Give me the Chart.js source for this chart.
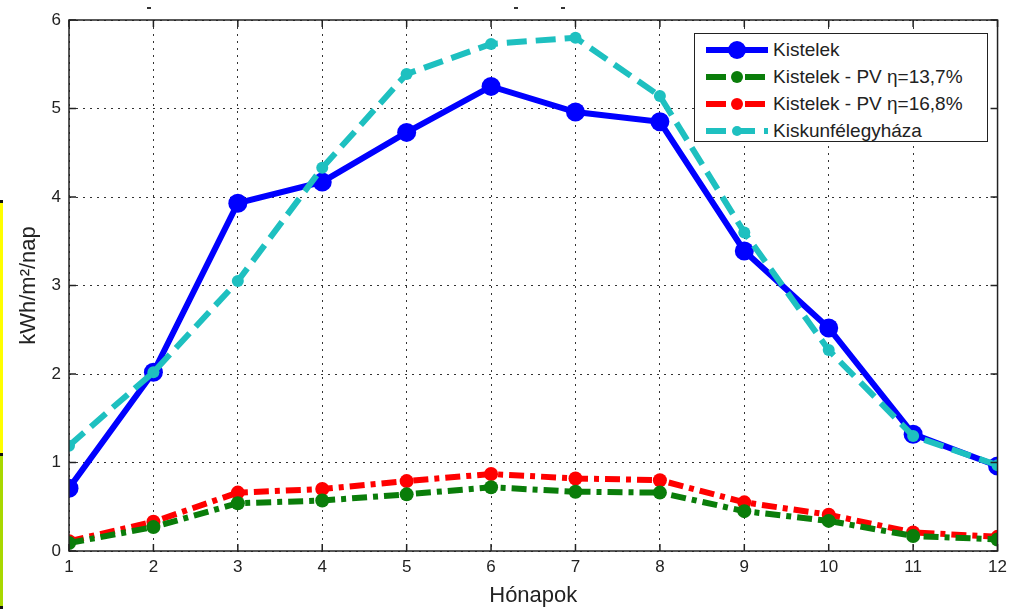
<!DOCTYPE html>
<html>
<head>
<meta charset="utf-8">
<script src="https://cdn.jsdelivr.net/npm/chart.js@4.4.1/dist/chart.umd.min.js"></script>
<style>
  html, body { margin: 0; padding: 0; background: #fff; }
  #wrap { position: relative; width: 1013px; height: 609px; overflow: hidden; }
  canvas { position: absolute; left: 0; top: 0; }
  .strip { position: absolute; left: 0; width: 3px; }
  .art { position: absolute; height: 2px; width: 4px; background: #333; top: 7px; }
  #legend { position: absolute; left: 694px; top: 33px; width: 294px; height: 109px; border: 1px solid #222; background: #fff;
            font-family: "Liberation Sans", Arial, sans-serif; font-size: 19px; color: #222; box-sizing: border-box; padding-top: 2px; }
  #legend .row { display: flex; align-items: center; height: 27px; }
  #legend svg { margin-left: 11px; margin-right: 5px; }
</style>
</head>
<body>
<div id="wrap">
  <canvas id="c" width="1013" height="609"></canvas>
  <div class="strip" style="top:200px;height:3px;background:#111;"></div>
  <div class="strip" style="top:203px;height:250px;background:#ffff00;"></div>
  <div class="strip" style="top:453px;height:3px;background:#111;"></div>
  <div class="strip" style="top:456px;height:150px;background:#a8d800;"></div>
  <div class="strip" style="top:606px;height:3px;background:#111;"></div>
  <div class="art" style="left:147px;"></div>
  <div class="art" style="left:514px;"></div>
  <div class="art" style="left:561px;"></div>
  <div id="legend"></div>
</div>
<script>
const months = [1, 2, 3, 4, 5, 6, 7, 8, 9, 10, 11, 12];
const kistelek = [0.71, 2.02, 3.93, 4.17, 4.73, 5.25, 4.96, 4.85, 3.39, 2.52, 1.32, 0.96];
const pv137 = [0.09, 0.27, 0.54, 0.57, 0.64, 0.72, 0.67, 0.66, 0.45, 0.34, 0.17, 0.13];
const pv168 = [0.11, 0.33, 0.66, 0.70, 0.79, 0.87, 0.82, 0.80, 0.55, 0.41, 0.21, 0.16];
const kiskun = [1.19, 2.02, 3.05, 4.33, 5.39, 5.73, 5.80, 5.14, 3.60, 2.27, 1.30, 0.97];
const seriesNames = ["Kistelek", "Kistelek - PV \u03b7=13,7%", "Kistelek - PV \u03b7=16,8%", "Kiskunfélegyháza"];
const yTicks = [0, 1, 2, 3, 4, 5, 6];
const xTitle = "Hónapok";
const yTitle = "kWh/m\u00b2/nap";

const toXY = arr => arr.map((v, i) => ({ x: months[i], y: v }));
const FONT = "'Liberation Sans', Arial, sans-serif";

const datasets = [
  { label: seriesNames[3], data: toXY(kiskun), borderColor: '#1ec0c0', backgroundColor: '#1ec0c0', borderWidth: 6,
    borderDash: [20, 9], pointRadius: 6, pointBorderWidth: 0, pointStyle: 'circle', tension: 0 },
  { label: seriesNames[1], data: toXY(pv137), borderColor: '#0a7d0a', backgroundColor: '#0a7d0a', borderWidth: 6,
    borderDash: [15, 6, 5, 6], pointRadius: 7, pointBorderWidth: 0, tension: 0 },
  { label: seriesNames[2], data: toXY(pv168), borderColor: '#ff0000', backgroundColor: '#ff0000', borderWidth: 6,
    borderDash: [15, 6, 5, 6], pointRadius: 7, pointBorderWidth: 0, tension: 0 },
  { label: seriesNames[0], data: toXY(kistelek), borderColor: '#0000ff', backgroundColor: '#0000ff', borderWidth: 6,
    pointRadius: 9.5, pointBorderWidth: 0, tension: 0 }
];

const frame = {
  id: 'frame',
  afterDatasetsDraw(chart) {
    const { ctx, chartArea: a, scales: { x, y } } = chart;
    ctx.save();
    ctx.strokeStyle = '#222';
    ctx.lineWidth = 1.5;
    ctx.setLineDash([]);
    ctx.beginPath();
    const L = 7;
    months.forEach(m => {
      const px = x.getPixelForValue(m);
      ctx.moveTo(px, a.bottom); ctx.lineTo(px, a.bottom - L);
      ctx.moveTo(px, a.top); ctx.lineTo(px, a.top + L);
    });
    yTicks.forEach(t => {
      const py = y.getPixelForValue(t);
      ctx.moveTo(a.left, py); ctx.lineTo(a.left + L, py);
      ctx.moveTo(a.right, py); ctx.lineTo(a.right - L, py);
    });
    ctx.stroke();
    ctx.strokeRect(a.left, a.top, a.right - a.left, a.bottom - a.top);
    ctx.restore();
  }
};

new Chart(document.getElementById('c'), {
  type: 'line',
  data: { datasets },
  options: {
    responsive: false,
    animation: false,
    layout: { padding: { left: 0, right: 13, top: 20, bottom: 0 } },
    plugins: { legend: { display: false }, tooltip: { enabled: false } },
    scales: {
      x: {
        type: 'linear', min: 1, max: 12,
        afterFit: s => { s.height = 58; },
        ticks: { stepSize: 1, color: '#222', font: { family: FONT, size: 17 }, padding: 6, maxRotation: 0 },
        grid: { color: '#333', lineWidth: 1, drawTicks: false },
        border: { display: false, dash: [2, 5] },
        title: { display: true, text: xTitle, color: '#222', font: { family: FONT, size: 22 }, padding: { top: 0, bottom: 0 } }
      },
      y: {
        min: 0, max: 6,
        afterFit: s => { s.width = 69; },
        ticks: { stepSize: 1, color: '#222', font: { family: FONT, size: 17 }, padding: 8 },
        grid: { color: '#333', lineWidth: 1, drawTicks: false },
        border: { display: false, dash: [2, 5] },
        title: { display: true, text: yTitle, color: '#222', font: { family: FONT, size: 22 }, padding: { top: 16, bottom: 0 } }
      }
    }
  },
  plugins: [frame]
});

// HTML legend
const legendSpec = [
  { name: seriesNames[0], color: '#0000ff', dash: null, r: 9 },
  { name: seriesNames[1], color: '#0a7d0a', dash: 'dd', r: 6 },
  { name: seriesNames[2], color: '#ff0000', dash: 'dd', r: 6 },
  { name: seriesNames[3], color: '#1ec0c0', dash: 'd', r: 5 }
];
const lg = document.getElementById('legend');
legendSpec.forEach(s => {
  const row = document.createElement('div');
  row.className = 'row';
  let line;
  if (s.dash === null) {
    line = `<line x1="0" y1="13" x2="62" y2="13" stroke="${s.color}" stroke-width="6"/>`;
  } else if (s.dash === 'dd') {
    line = `<line x1="0" y1="13" x2="62" y2="13" stroke="${s.color}" stroke-width="6" stroke-dasharray="20 7 5 7 20"/>`;
  } else {
    line = `<line x1="0" y1="13" x2="62" y2="13" stroke="${s.color}" stroke-width="6" stroke-dasharray="20 9 20 9"/>`;
  }
  row.innerHTML = `<svg width="62" height="26">${line}<circle cx="31" cy="13" r="${s.r}" fill="${s.color}"/></svg><span>${s.name}</span>`;
  lg.appendChild(row);
});
</script>
</body>
</html>
